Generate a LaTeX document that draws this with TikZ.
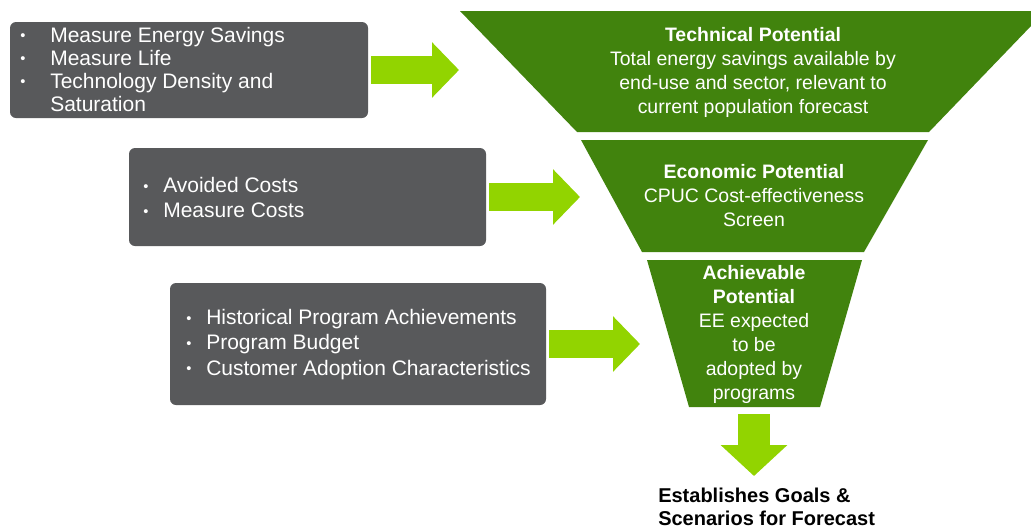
\documentclass[tikz,border=0pt]{standalone}
\usepackage{fontspec}
\setmainfont{Liberation Sans}
\usetikzlibrary{arrows.meta}

\definecolor{boxgray}{RGB}{88,89,91}
\definecolor{funnelgreen}{RGB}{65,131,13}
\definecolor{arrowlime}{RGB}{146,212,0}

\newdimen\pxu
\pxu=0.75pt
% bullet with its indent
\newcommand\bitem[1][30]{\makebox[#1\pxu][l]{\raisebox{1pt}{\fontsize{11}{11}\selectfont\textbullet}}}

\tikzset{
    inputbox/.style={fill=boxgray, rounded corners=4.5pt, inner sep=0pt},
    inputtext/.style={text=white, align=left, anchor=west, inner sep=0pt,
        font=\fontsize{15.75}{17.25}\selectfont},
    funneltext/.style={text=white, align=center, inner sep=0pt,
        font=\fontsize{14.6}{18}\selectfont},
    fatarrow/.style={draw=arrowlime, line width=21pt,
        -{Triangle[length=20.25pt,width=40.5pt]}},
    downarrow/.style={draw=arrowlime, line width=24pt,
        -{Triangle[length=23.25pt,width=48.75pt]}},
}

\begin{document}
\begin{tikzpicture}[x=0.75pt,y=-0.75pt]
        % page has the size of the slide
        \useasboundingbox (0,0) rectangle (1031,529);

        % funnel, three stages
        \fill[funnelgreen] (460,11) -- (1031,11) -- (1031,26) -- (929,132) -- (577,132) -- cycle;
        \fill[funnelgreen] (581,140) -- (928,140) -- (864,252) -- (642,252) -- cycle;
        \fill[funnelgreen] (647,260) -- (862,260) -- (820,407) -- (689,407) -- cycle;

        % labels of the funnel stages
        \node[funneltext] (technical) at (753,72)
            {\textbf{Technical Potential}\\Total energy savings available by\\end-use and sector, relevant to\\current population forecast};
        \node[funneltext] (economic) at (754,196)
            {\textbf{Economic Potential}\\CPUC Cost-effectiveness\\Screen};
        \node[funneltext] (achievable) at (754,334)
            {\textbf{Achievable}\\\textbf{Potential}\\EE expected\\to be\\adopted by\\programs};

        % input boxes
        \node[inputbox, minimum width=268.5pt, minimum height=72pt] (savings) at (189,70) {};
        \node[inputtext] at (20,69)
            {\bitem Measure Energy Savings\\\bitem Measure Life\\\bitem Technology Density and\\\hspace*{30\pxu}Saturation};

        \node[inputbox, minimum width=267.75pt, minimum height=73.5pt] (costs) at (307.5,197) {};
        \node[inputtext, font=\fontsize{15.75}{18.75}\selectfont] at (143,197.5)
            {\bitem[20]Avoided Costs\\\bitem[20]Measure Costs};

        \node[inputbox, minimum width=282pt, minimum height=91.5pt] (programs) at (358,344) {};
        \node[inputtext, font=\fontsize{15.75}{19}\selectfont] at (186,344.5)
            {\bitem[20]Historical Program Achievements\\\bitem[20]Program Budget\\\bitem[20]Customer Adoption Characteristics};

        % tips of the arrows
        \coordinate (tip1) at (459,70);
        \coordinate (tip2) at (580,197);
        \coordinate (tip3) at (640,344);
        \coordinate (funnelend) at (754,407);
        \coordinate (tip4) at (754,476);

        % arrows into the funnel
        \draw[fatarrow, shorten <=2.25pt] (savings.east) -- (tip1);
        \draw[fatarrow, shorten <=2.25pt] (costs.east) -- (tip2);
        \draw[fatarrow, shorten <=2.25pt] (programs.east) -- (tip3);

        % arrow out of the funnel
        \draw[downarrow, shorten <=5.25pt] (funnelend) -- (tip4);

        % result
        \node[anchor=west, align=left, inner sep=0pt, font=\fontsize{15}{17.25}\selectfont\bfseries] (goals) at (658,506.5)
            {Establishes Goals \&\\Scenarios for Forecast};
\end{tikzpicture}
\end{document}
